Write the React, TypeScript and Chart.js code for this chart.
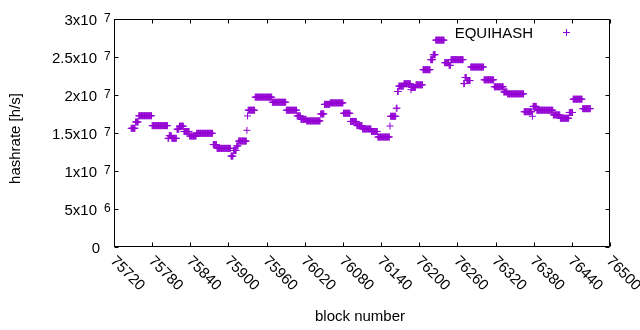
import React, { useEffect, useRef } from "react";
import { Chart, registerables } from "chart.js";

Chart.register(...registerables);

// ---- data (runs of consecutive blocks with the same estimated hashrate) ----
const runStart = [
  75747, 75754, 75759, 75780, 75805, 75807, 75811, 75819, 75823, 75830,
  75839, 75850, 75876, 75882, 75904, 75908, 75913, 75916, 75929, 75930,
  75931, 75942, 75969, 75991, 76008, 76014, 76023, 76045, 76051, 76060,
  76081, 76092, 76102, 76111, 76125, 76135, 76154, 76155, 76164, 76166,
  76168, 76176, 76187, 76188, 76195, 76206, 76218, 76222, 76226, 76240,
  76247, 76250, 76270, 76272, 76275, 76281, 76302, 76318, 76333, 76339,
  76365, 76378, 76379, 76385, 76411, 76422, 76436, 76442, 76457,
];
const runEnd = [
  75753, 75758, 75779, 75804, 75806, 75810, 75818, 75822, 75829, 75838,
  75849, 75875, 75881, 75903, 75907, 75912, 75915, 75928, 75929, 75930,
  75941, 75968, 75990, 76007, 76013, 76022, 76044, 76050, 76059, 76080,
  76091, 76101, 76110, 76124, 76134, 76153, 76154, 76163, 76165, 76167,
  76175, 76186, 76187, 76194, 76205, 76217, 76221, 76225, 76239, 76246,
  76249, 76269, 76271, 76274, 76280, 76301, 76317, 76332, 76338, 76364,
  76377, 76378, 76384, 76410, 76421, 76435, 76441, 76456, 76469,
];
const runValue = [
  1.562e7, 1.645e7, 1.727e7, 1.597e7, 1.43e7, 1.465e7, 1.43e7, 1.55e7, 1.59e7, 1.52e7,
  1.46e7, 1.496e7, 1.348e7, 1.298e7, 1.196e7, 1.27e7, 1.33e7, 1.394e7, 1.535e7, 1.725e7,
  1.8e7, 1.972e7, 1.905e7, 1.8e7, 1.725e7, 1.68e7, 1.659e7, 1.751e7, 1.877e7, 1.896e7,
  1.76e7, 1.652e7, 1.597e7, 1.553e7, 1.52e7, 1.447e7, 1.592e7, 1.72e7, 1.826e7, 2.046e7,
  2.117e7, 2.148e7, 2.07e7, 2.1e7, 2.134e7, 2.333e7, 2.465e7, 2.53e7, 2.722e7, 2.425e7,
  2.39e7, 2.465e7, 2.15e7, 2.23e7, 2.19e7, 2.368e7, 2.2e7, 2.108e7, 2.04e7, 2.015e7,
  1.78e7, 1.72e7, 1.85e7, 1.8e7, 1.738e7, 1.694e7, 1.77e7, 1.945e7, 1.82e7,
];

const xMin = 75720;
const xMax = 76500;
const yMin = 0;
const yMax = 3e7;
const xTickValues = [
  75720, 75780, 75840, 75900, 75960, 76020, 76080, 76140, 76200, 76260, 76320,
  76380, 76440, 76500,
];
const yTickValues = [0, 5e6, 1e7, 1.5e7, 2e7, 2.5e7, 3e7];
const yTickMantissa = ["0", "5x10", "1x10", "1.5x10", "2x10", "2.5x10", "3x10"];
const yTickExponent = ["", "6", "7", "7", "7", "7", "7"];
const seriesName = "EQUIHASH";
const xTitle = "block number";
const yTitle = "hashrate [h/s]";

const COLOR = "#9400D3";
const FONT = "'Liberation Sans', Arial, sans-serif";
const FS = 15;

function buildPoints() {
  const pts: { x: number; y: number }[] = [];
  for (let i = 0; i < runStart.length; i++) {
    for (let b = runStart[i]; b <= runEnd[i]; b++) {
      pts.push({ x: b, y: runValue[i] });
    }
  }
  return pts;
}

const gnuplotFrame = {
  id: "gnuplotFrame",
  afterDraw(chart: any) {
    const ctx: CanvasRenderingContext2D = chart.ctx;
    const xs = chart.scales.x;
    const ys = chart.scales.y;
    const { left, right, top, bottom } = chart.chartArea;
    const L = Math.round(left) + 0.5;
    const R = Math.round(right) - 0.5;
    const T = Math.round(top) + 0.5;
    const B = Math.round(bottom) - 0.5;
    const TL = 4;
    ctx.save();
    ctx.strokeStyle = "#000";
    ctx.lineWidth = 1;
    ctx.beginPath();
    ctx.rect(L, T, R - L, B - T);
    // x ticks (bottom + mirrored top)
    for (const v of xTickValues) {
      const px = Math.round(xs.getPixelForValue(v)) + 0.5;
      ctx.moveTo(px, B);
      ctx.lineTo(px, B - TL);
      ctx.moveTo(px, T);
      ctx.lineTo(px, T + TL);
    }
    for (const v of yTickValues) {
      const py = Math.round(ys.getPixelForValue(v)) + 0.5;
      ctx.moveTo(L, py);
      ctx.lineTo(L + TL, py);
      ctx.moveTo(R, py);
      ctx.lineTo(R - TL, py);
    }
    ctx.stroke();

    ctx.fillStyle = "#000";
    // x tick labels, rotated clockwise, starting at tick
    ctx.font = `${FS}px ${FONT}`;
    for (const v of xTickValues) {
      const px = xs.getPixelForValue(v);
      ctx.save();
      ctx.translate(px + 4, B + 7);
      ctx.rotate(Math.PI / 4);
      ctx.textAlign = "left";
      ctx.textBaseline = "top";
      ctx.fillText(String(v), 0, 0);
      ctx.restore();
    }
    // y tick labels
    yTickValues.forEach((v, i) => {
      const py = ys.getPixelForValue(v);
      ctx.font = `${FS}px ${FONT}`;
      ctx.textBaseline = "alphabetic";
      if (!yTickExponent[i]) {
        ctx.textAlign = "right";
        ctx.fillText(yTickMantissa[i], 100, py + 5.5);
      } else {
        ctx.textAlign = "right";
        ctx.fillText(yTickMantissa[i], 97, py + 5.5);
        ctx.font = `12px ${FONT}`;
        ctx.textAlign = "left";
        ctx.fillText(yTickExponent[i], 104, py + 2.5);
      }
    });
    // axis titles
    ctx.font = `${FS}px ${FONT}`;
    ctx.textAlign = "center";
    ctx.textBaseline = "alphabetic";
    ctx.fillText(xTitle, (left + right) / 2 - 2, 321);
    ctx.save();
    ctx.translate(19.5, 138.5);
    ctx.rotate(-Math.PI / 2);
    ctx.fillText(yTitle, 0, 0);
    ctx.restore();
    // legend
    ctx.textAlign = "right";
    ctx.fillText(seriesName, 533, 37.5);
    ctx.strokeStyle = COLOR;
    ctx.beginPath();
    ctx.moveTo(563, 32.5);
    ctx.lineTo(570, 32.5);
    ctx.moveTo(566.5, 29);
    ctx.lineTo(566.5, 36);
    ctx.stroke();
    ctx.restore();
  },
};

export default function App() {
  const ref = useRef<HTMLCanvasElement | null>(null);
  useEffect(() => {
    document.body.style.margin = "0";
    if (!ref.current) return;
    const chart = new Chart(ref.current, {
      type: "scatter",
      data: {
        datasets: [
          {
            label: seriesName,
            data: buildPoints(),
            pointStyle: "cross",
            pointRadius: 3.5,
            pointHoverRadius: 3.5,
            pointBorderWidth: 1,
            borderColor: COLOR,
            backgroundColor: COLOR,
          },
        ],
      },
      options: {
        responsive: false,
        animation: false,
        devicePixelRatio: 1,
        layout: { padding: { left: 114, top: 19, right: 30, bottom: 83 } },
        plugins: { legend: { display: false }, tooltip: { enabled: false } },
        scales: {
          x: { type: "linear", display: false, min: xMin, max: xMax },
          y: { type: "linear", display: false, min: yMin, max: yMax },
        },
      },
      plugins: [gnuplotFrame],
    });
    return () => chart.destroy();
  }, []);
  return (
    <div style={{ position: "fixed", left: 0, top: 0, width: 640, height: 330, background: "#fff" }}>
      <canvas ref={ref} width={640} height={330} style={{ display: "block" }} />
    </div>
  );
}
